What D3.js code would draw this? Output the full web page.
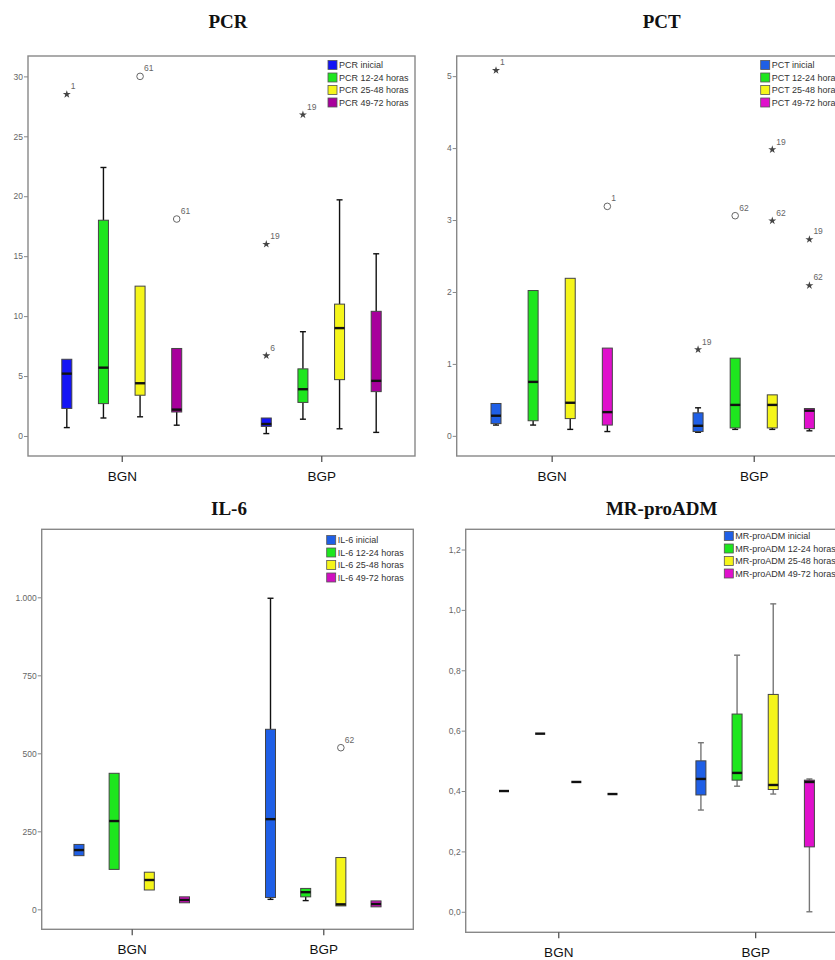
<!DOCTYPE html>
<html>
<head>
<meta charset="utf-8">
<script src="https://cdn.jsdelivr.net/npm/d3@7"></script>
<style>
body { margin: 0; background: #fff; }
svg { display: block; font-family: Arial, "Liberation Sans", sans-serif; }
</style>
</head>
<body>
<div id="chart"></div>
<script>
var groups = ["BGN", "BGP"];
var periods = ["inicial", "12-24 horas", "25-48 horas", "49-72 horas"];

// each row: [min, q1, median, q3, max]; BGN inicial..49-72 then BGP inicial..49-72
var pcrBoxes = [
	[0.7, 2.3, 5.2, 6.4, 6.4],
	[1.5, 2.7, 5.7, 18.0, 22.4],
	[1.6, 3.4, 4.4, 12.5, 12.5],
	[0.9, 2.0, 2.2, 7.3, 7.3],
	[0.2, 0.8, 1.0, 1.5, 1.5],
	[1.4, 2.8, 3.9, 5.6, 8.7],
	[0.6, 4.7, 9.0, 11.0, 19.7],
	[0.3, 3.7, 4.6, 10.4, 15.2]
];
// [group, period index, value, case, kind]
var pcrOutliers = [
	["BGN", 0, 28.5, "1", "star"],
	["BGN", 2, 30.0, "61", "circle"],
	["BGN", 3, 18.1, "61", "circle"],
	["BGP", 0, 16.0, "19", "star"],
	["BGP", 0, 6.7, "6", "star"],
	["BGP", 1, 26.8, "19", "star"]
];
var pcrTicks = [0, 5, 10, 15, 20, 25, 30];

var pctBoxes = [
	[0.15, 0.17, 0.28, 0.45, 0.45],
	[0.15, 0.21, 0.75, 2.02, 2.02],
	[0.09, 0.24, 0.46, 2.19, 2.19],
	[0.06, 0.15, 0.33, 1.22, 1.22],
	[0.05, 0.06, 0.14, 0.32, 0.39],
	[0.09, 0.11, 0.43, 1.08, 1.08],
	[0.09, 0.11, 0.43, 0.57, 0.57],
	[0.07, 0.10, 0.35, 0.38, 0.38]
];
var pctOutliers = [
	["BGN", 0, 5.08, "1", "star"],
	["BGN", 3, 3.19, "1", "circle"],
	["BGP", 0, 1.20, "19", "star"],
	["BGP", 1, 3.06, "62", "circle"],
	["BGP", 2, 3.98, "19", "star"],
	["BGP", 2, 2.99, "62", "star"],
	["BGP", 3, 2.73, "19", "star"],
	["BGP", 3, 2.09, "62", "star"]
];
var pctTicks = [0, 1, 2, 3, 4, 5];

var il6Boxes = [
	[172, 172, 190, 208, 208],
	[128, 128, 283, 436, 436],
	[62, 62, 94, 119, 119],
	[21, 21, 30, 40, 40],
	[32, 38, 289, 577, 997],
	[28, 40, 55, 67, 67],
	[11, 11, 16, 166, 166],
	[8, 8, 17, 27, 27]
];
var il6Outliers = [
	["BGP", 2, 518, "62", "circle"]
];
var il6Ticks = [0, 250, 500, 750, 1000];

var admBoxes = [
	[0.40, 0.40, 0.40, 0.40, 0.40],
	[0.59, 0.59, 0.59, 0.59, 0.59],
	[0.43, 0.43, 0.43, 0.43, 0.43],
	[0.39, 0.39, 0.39, 0.39, 0.39],
	[0.337, 0.387, 0.44, 0.50, 0.56],
	[0.416, 0.436, 0.46, 0.655, 0.85],
	[0.39, 0.405, 0.42, 0.72, 1.02],
	[0.0, 0.215, 0.43, 0.436, 0.44]
];
var admOutliers = [];
var admTicks = [0, 0.2, 0.4, 0.6, 0.8, 1.0, 1.2];

var es = d3.formatLocale({decimal: ",", thousands: ".", grouping: [3], currency: ["", " €"]});

var svg = d3.select("#chart")
	.append("svg")
	.attr("width", 835)
	.attr("height", 960);

var panels = [
	{title: "PCR", name: "PCR", boxes: pcrBoxes, outliers: pcrOutliers, ticks: pcrTicks, fmt: es.format("d"),
		x: 28, y: 56, w: 387, h: 400, domain: [-1.67, 31.7], tx: 228, ty: 28, lx: 300, ly: 9,
		colors: ["#1414f5", "#1ee61e", "#f5f51a", "#a8009c"], wcol: "#111"},
	{title: "PCT", name: "PCT", boxes: pctBoxes, outliers: pctOutliers, ticks: pctTicks, fmt: es.format("d"),
		x: 456.7, y: 56, w: 392, h: 400, domain: [-0.28, 5.28], tx: 661.7, ty: 28, lx: 304, ly: 9,
		colors: ["#1f5fe6", "#1ee61e", "#f5f51a", "#e010cc"], wcol: "#111"},
	{title: "IL-6", name: "IL-6", boxes: il6Boxes, outliers: il6Outliers, ticks: il6Ticks, fmt: es.format(",d"),
		x: 41.7, y: 529.3, w: 371.6, h: 400, domain: [-64, 1218], tx: 229, ty: 515, lx: 285, ly: 10.7,
		colors: ["#1f5fe6", "#1ee61e", "#f5f51a", "#d010c0"], wcol: "#111"},
	{title: "MR-proADM", name: "MR-proADM", boxes: admBoxes, outliers: admOutliers, ticks: admTicks, fmt: es.format(".1f"),
		x: 465.7, y: 529.3, w: 382, h: 403, domain: [-0.068, 1.267], tx: 661.7, ty: 515, lx: 258.6, ly: 6.7,
		colors: ["#1f5fe6", "#1ee61e", "#f5f51a", "#e010cc"], wcol: "#777"}
];

panels.forEach(function(p) {

	svg.append("text")
		.attr("x", p.tx)
		.attr("y", p.ty)
		.attr("text-anchor", "middle")
		.style("font-family", "'Liberation Serif', 'Times New Roman', serif")
		.style("font-weight", "bold")
		.style("font-size", "19px")
		.attr("fill", "#111")
		.text(p.title);

	var g = svg.append("g")
		.attr("transform", "translate(" + p.x + "," + p.y + ")");

	var y = d3.scaleLinear().domain(p.domain).range([p.h, 0]);
	var x = d3.scalePoint().domain(groups).range([0, p.w]).padding(0.47);
	var sub = d3.scalePoint().domain(d3.range(periods.length)).range([-0.142 * p.w, 0.142 * p.w]);
	var bw = 10;

	g.append("rect")
		.attr("width", p.w)
		.attr("height", p.h)
		.attr("fill", "#fff")
		.attr("stroke", "#888")
		.attr("stroke-width", 1.4);

	var yAxis = g.append("g")
		.call(d3.axisLeft(y).tickValues(p.ticks).tickFormat(p.fmt).tickSize(4).tickPadding(1));
	yAxis.select(".domain").remove();
	yAxis.selectAll("line").attr("stroke", "#888");
	yAxis.selectAll("text").attr("fill", "#666").style("font-size", "8.5px");

	var xAxis = g.append("g")
		.attr("transform", "translate(0," + p.h + ")")
		.call(d3.axisBottom(x).tickSize(6).tickPadding(9));
	xAxis.select(".domain").remove();
	xAxis.selectAll("line").attr("stroke", "#555").attr("stroke-width", 1.3);
	xAxis.selectAll("text").attr("fill", "#111").style("font-size", "13.5px");

	var rows = p.boxes.map(function(b, i) {
		return {group: groups[Math.floor(i / periods.length)], period: i % periods.length, s: b};
	});

	var box = g.selectAll(".box")
		.data(rows)
		.enter().append("g")
		.attr("class", "box")
		.attr("transform", function(d) {
			return "translate(" + (x(d.group) + sub(d.period)) + ",0)";
		});

	// whiskers
	box.filter(function(d) { return d.s[4] > d.s[3]; })
		.append("line")
		.attr("y1", function(d) { return y(d.s[4]); })
		.attr("y2", function(d) { return y(d.s[3]); })
		.attr("stroke", p.wcol).attr("stroke-width", 1.4);
	box.filter(function(d) { return d.s[4] > d.s[3]; })
		.append("line")
		.attr("x1", -3).attr("x2", 3)
		.attr("y1", function(d) { return y(d.s[4]); })
		.attr("y2", function(d) { return y(d.s[4]); })
		.attr("stroke", p.wcol).attr("stroke-width", 1.4);
	box.filter(function(d) { return d.s[1] > d.s[0]; })
		.append("line")
		.attr("y1", function(d) { return y(d.s[1]); })
		.attr("y2", function(d) { return y(d.s[0]); })
		.attr("stroke", p.wcol).attr("stroke-width", 1.4);
	box.filter(function(d) { return d.s[1] > d.s[0]; })
		.append("line")
		.attr("x1", -3).attr("x2", 3)
		.attr("y1", function(d) { return y(d.s[0]); })
		.attr("y2", function(d) { return y(d.s[0]); })
		.attr("stroke", p.wcol).attr("stroke-width", 1.4);

	box.append("rect")
		.attr("x", -bw / 2)
		.attr("width", bw)
		.attr("y", function(d) { return y(d.s[3]); })
		.attr("height", function(d) { return y(d.s[1]) - y(d.s[3]); })
		.attr("fill", function(d) { return p.colors[d.period]; })
		.attr("stroke", "#444")
		.attr("stroke-width", 1);

	box.append("line")
		.attr("x1", -bw / 2).attr("x2", bw / 2)
		.attr("y1", function(d) { return y(d.s[2]); })
		.attr("y2", function(d) { return y(d.s[2]); })
		.attr("stroke", "#111")
		.attr("stroke-width", 2.4);

	// outliers
	var out = g.selectAll(".outlier")
		.data(p.outliers)
		.enter().append("g")
		.attr("class", "outlier")
		.attr("transform", function(d) {
			return "translate(" + (x(d[0]) + sub(d[1])) + "," + y(d[2]) + ")";
		});

	out.filter(function(d) { return d[4] === "star"; })
		.append("path")
		.attr("d", d3.symbol(d3.symbolStar, 20))
		.attr("fill", "#444");
	out.filter(function(d) { return d[4] === "circle"; })
		.append("circle")
		.attr("r", 3.3)
		.attr("fill", "none")
		.attr("stroke", "#666")
		.attr("stroke-width", 1);
	out.append("text")
		.attr("x", 4)
		.attr("y", -5)
		.attr("fill", "#666")
		.style("font-size", "8.5px")
		.text(function(d) { return d[3]; });

	// legend
	var leg = g.selectAll(".legend")
		.data(periods)
		.enter().append("g")
		.attr("class", "legend")
		.attr("transform", function(d, i) {
			return "translate(" + p.lx + "," + (p.ly + i * 12.5) + ")";
		});
	leg.append("rect")
		.attr("x", 0).attr("y", -4.5)
		.attr("width", 9).attr("height", 9)
		.attr("fill", function(d, i) { return p.colors[i]; })
		.attr("stroke", "#555")
		.attr("stroke-width", 0.8);
	leg.append("text")
		.attr("x", 11)
		.attr("y", 3.3)
		.attr("fill", "#333")
		.style("font-size", "9px")
		.text(function(d) { return p.name + " " + d; });
});
</script>
</body>
</html>
